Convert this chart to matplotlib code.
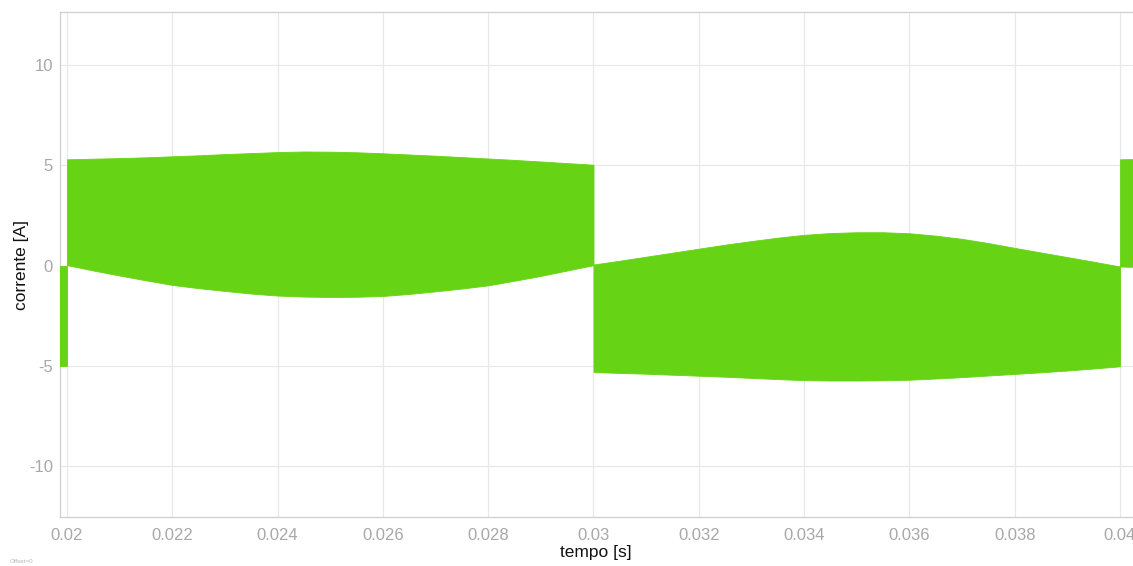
import matplotlib.pyplot as plt

# Envelope of the inductor current (ripple band), A
# tail of the previous negative half-cycle
t_tail = [0.0195, 0.0200]
sup_tail = [0.0, 0.0]
inf_tail = [-5.0, -5.0]

# positive half-cycle
t_pos = [0.0200, 0.0205, 0.0210, 0.0215, 0.0220, 0.0225, 0.0230, 0.0235, 0.0240, 0.0245,
         0.0250, 0.0255, 0.0260, 0.0265, 0.0270, 0.0275, 0.0280, 0.0285, 0.0290, 0.0295,
         0.0300]
sup_pos = [5.30, 5.33, 5.36, 5.40, 5.45, 5.50, 5.56, 5.61, 5.66, 5.69,
           5.68, 5.65, 5.60, 5.54, 5.48, 5.41, 5.34, 5.27, 5.19, 5.11,
           5.03]
inf_pos = [0.02, -0.25, -0.50, -0.74, -0.97, -1.13, -1.27, -1.40, -1.50, -1.55,
           -1.57, -1.56, -1.52, -1.42, -1.29, -1.15, -0.99, -0.76, -0.52, -0.25,
           0.02]

# negative half-cycle
t_neg = [0.0300, 0.0305, 0.0310, 0.0315, 0.0320, 0.0325, 0.0330, 0.0335, 0.0340, 0.0345,
         0.0350, 0.0355, 0.0360, 0.0365, 0.0370, 0.0375, 0.0380, 0.0385, 0.0390, 0.0395,
         0.0400]
sup_neg = [0.05, 0.24, 0.44, 0.64, 0.84, 1.04, 1.22, 1.39, 1.53, 1.62,
           1.66, 1.66, 1.61, 1.49, 1.33, 1.12, 0.88, 0.65, 0.42, 0.19,
           -0.05]
inf_neg = [-5.32, -5.36, -5.40, -5.45, -5.50, -5.55, -5.61, -5.67, -5.72, -5.74,
           -5.74, -5.73, -5.70, -5.64, -5.57, -5.49, -5.41, -5.33, -5.24, -5.14,
           -5.03]

# start of the next positive half-cycle
t_next = [0.0400, 0.0405]
sup_next = [5.30, 5.32]
inf_next = [-0.05, -0.08]

xticks = [0.02, 0.022, 0.024, 0.026, 0.028, 0.03, 0.032, 0.034, 0.036, 0.038, 0.04]
xticklabels = ["0.02", "0.022", "0.024", "0.026", "0.028", "0.03",
               "0.032", "0.034", "0.036", "0.038", "0.04"]
yticks = [-10, -5, 0, 5, 10]

verde = "#66d414"

plt.rcParams['font.family'] = ['Liberation Sans', 'DejaVu Sans']
plt.rcParams['axes.unicode_minus'] = False

fig = plt.figure(figsize=(11.33, 5.66), dpi=100)
ax = fig.add_axes([60 / 1133, 49 / 566, 1 - 60 / 1133, 505 / 566])

for t, s, i in [(t_tail, sup_tail, inf_tail), (t_pos, sup_pos, inf_pos),
                (t_neg, sup_neg, inf_neg), (t_next, sup_next, inf_next)]:
    ax.fill_between(t, i, s, color=verde, linewidth=0.6, edgecolor=verde, zorder=3)

ax.set_xlim(0.019867, 0.040247)
ax.set_ylim(-12.55, 12.65)
ax.set_xticks(xticks)
ax.set_xticklabels(xticklabels)
ax.set_yticks(yticks)
ax.grid(True, color="#e8e8e8", linewidth=0.9, zorder=0)
ax.set_axisbelow(True)

for lado in ["left", "bottom", "top"]:
    ax.spines[lado].set_color("#cfcfcf")
    ax.spines[lado].set_linewidth(0.9)
ax.spines["right"].set_visible(False)

ax.tick_params(length=0, labelsize=12, labelcolor="#a8a8a8")
ax.tick_params(axis="x", pad=8)
ax.tick_params(axis="y", pad=5)

ax.set_xlabel("tempo [s]", fontsize=12.5, color="#111111")
ax.set_ylabel("corrente [A]", fontsize=12.5, color="#111111")
ax.xaxis.set_label_coords((596 - 60) / 1073, (517 - 553) / 505)
ax.yaxis.set_label_coords((22 - 60) / 1073, 0.5)
ax.xaxis.label.set_va("center")
ax.yaxis.label.set_va("center")

fig.text(0.009, 0.006, "Offset=0", fontsize=4.5, color="#b8b8b8")

fig.savefig("out.png", dpi=100)
